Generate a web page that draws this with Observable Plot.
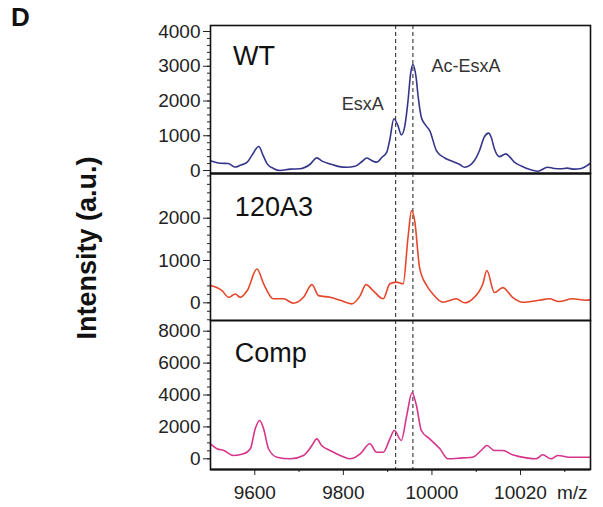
<!DOCTYPE html>
<html>
<head>
<meta charset="utf-8">
<script src="https://cdn.jsdelivr.net/npm/d3@7"></script>
<script src="https://cdn.jsdelivr.net/npm/@observablehq/plot@0.6"></script>
<style>
  html, body { margin: 0; padding: 0; background: #fff; }
  #wrap { position: relative; width: 603px; height: 507px; overflow: hidden; font-family: "Liberation Sans", Arial, sans-serif; }
  #wrap svg { position: absolute; left: 0; overflow: visible; }
  .lbl { position: absolute; white-space: nowrap; color: #111; }
</style>
</head>
<body>
<div id="wrap">
  <div class="lbl" style="left:11px;top:2px;font-size:26px;font-weight:bold;">D</div>
  <div class="lbl" id="ylab" style="left:87px;top:248px;font-size:27px;font-weight:bold;transform:translate(-50%,-50%) rotate(-90deg);">Intensity (a.u.)</div>
  <div class="lbl" style="left:557px;top:482px;font-size:19px;color:#222;">m/z</div>
</div>
<script>
// ---- data ----
const panelNames = ["WT", "120A3", "Comp"];
const peakLabels = ["EsxA", "Ac-EsxA"];
const peakMz = [9918, 9957];

const wtMz  = [9500,9522,9540,9556,9567,9583,9594,9609,9619,9628,9642,9657,9680,9702,9725,9740,9752,9770,9788,9808,9826,9842,9853,9862,9875,9887,9898,9905,9914,9923,9931,9939,9946,9952,9957,9964,9969,9976,9986,9995,10010,10029,10047,10062,10074,10096,10107,10118,10128,10134,10141,10152,10167,10175,10186,10202,10216,10239,10261,10276,10291,10305,10321,10337,10351,10356];
const wtInt = [280,210,200,100,150,240,450,690,430,190,60,0,40,50,180,365,270,190,120,95,120,260,360,300,240,380,530,900,1490,1300,1025,1300,2014,2800,3050,2700,2110,1535,1300,1150,575,360,260,180,95,288,560,960,1075,950,625,400,480,400,240,130,50,-20,95,60,50,70,40,60,145,200];

const a3Mz  = [9500,9526,9541,9556,9567,9583,9605,9620,9642,9665,9687,9710,9729,9744,9770,9793,9819,9838,9851,9867,9890,9905,9920,9935,9946,9954,9961,9972,9988,10002,10025,10055,10074,10092,10115,10124,10141,10160,10182,10205,10242,10265,10287,10317,10347,10356];
const a3Int = [410,290,130,210,130,290,800,450,95,95,-10,130,430,170,130,60,-25,170,430,290,95,450,490,450,1550,2180,1945,840,410,210,15,95,0,95,450,765,245,360,130,15,60,95,30,95,60,70];

const compMz  = [9500,9515,9530,9552,9575,9590,9601,9611,9620,9631,9650,9680,9710,9729,9740,9751,9770,9793,9815,9838,9860,9875,9890,9905,9915,9931,9943,9955,9965,9976,9995,10018,10036,10070,10092,10111,10124,10141,10160,10182,10213,10235,10250,10269,10284,10310,10348,10356];
const compInt = [940,630,520,210,315,630,1880,2400,1880,630,100,0,210,830,1250,830,520,210,0,315,940,410,410,1250,1775,1150,2710,4140,3340,1775,1250,630,0,60,100,520,830,520,520,250,60,0,250,0,210,100,100,100];

const yTicks = [[0,1000,2000,3000,4000],[0,1000,2000],[0,2000,4000,6000,8000]];
const yMinor = [d3.range(0, 4001, 200), d3.range(-400, 3001, 200), d3.range(0, 8001, 500)];
const yDomains = [[-86, 4173], [-418, 3057], [-671, 8671]];
const xDomain = [9500, 10358];
const xTickValues = [9600, 9800, 10000, 10200];
const xTickLabels = ["9600", "9800", "10000", "10020"];
const xMinor = [9700, 9900, 10100, 10300];
const lineColors = ["#35358c", "#e5472b", "#d6348a"];
// label anchor positions (data coordinates)
const nameX = [9551, 9555, 9555];
const nameY = [3022, 2064, 6056];

const series = [
  wtMz.map((m, i) => ({mz: m, v: wtInt[i]})),
  a3Mz.map((m, i) => ({mz: m, v: a3Int[i]})),
  compMz.map((m, i) => ({mz: m, v: compInt[i]}))
];

const hasAxisMarks = typeof Plot.axisY === "function";
const panels = [
  {top: 0, height: 173, mt: 25, mb: 0},
  {top: 173, height: 147, mt: 0, mb: 0},
  {top: 320, height: 187, mt: 0, mb: 38}
];
const fmt = d => String(d);

const wrap = document.getElementById("wrap");
panels.forEach((p, k) => {
  const marks = [];
  const isLast = k === 2;
  if (hasAxisMarks) {
    marks.push(Plot.axisY(yMinor[k].filter(v => v >= yDomains[k][0] && v <= yDomains[k][1]), {tickSize: 3, tickFormat: () => "", label: null, stroke: "#222"}));
    marks.push(Plot.axisY(yTicks[k], {tickSize: 7, tickPadding: 3, tickFormat: fmt, label: null, stroke: "#222", fill: "#222"}));
    if (isLast) {
      marks.push(Plot.axisX(xMinor, {tickSize: 3, tickFormat: () => "", label: null, stroke: "#222"}));
      marks.push(Plot.axisX(xTickValues, {tickSize: 6, tickPadding: 10, label: null, stroke: "#222", fill: "#222",
        tickFormat: d => xTickLabels[xTickValues.indexOf(d)]}));
    }
  }
  marks.push(Plot.ruleX(peakMz, {stroke: "#333", strokeDasharray: "4,3", strokeWidth: 1.1}));
  marks.push(Plot.line(series[k], {x: "mz", y: "v", stroke: lineColors[k], strokeWidth: 1.6, curve: "monotone-x"}));
  marks.push(Plot.text([panelNames[k]], {x: nameX[k], y: nameY[k], textAnchor: "start", lineAnchor: "bottom", fontSize: 27, fill: "#111"}));
  if (k === 0) {
    marks.push(Plot.text([peakLabels[0]], {x: 9891, y: 1727, textAnchor: "end", lineAnchor: "bottom", fontSize: 18, fill: "#333"}));
    marks.push(Plot.text([peakLabels[1]], {x: 9999, y: 2829, textAnchor: "start", lineAnchor: "bottom", fontSize: 18, fill: "#333"}));
  }
  marks.push(Plot.frame({stroke: "#111", strokeWidth: 1.6}));
  if (isLast || k === 0) marks.push(Plot.ruleY([yDomains[k][0]], {stroke: "#111", strokeWidth: 2.2}));

  const xOpt = isLast
    ? (hasAxisMarks ? {domain: xDomain} : {domain: xDomain, ticks: xTickValues, tickFormat: d => xTickLabels[xTickValues.indexOf(d)], tickSize: 6, tickPadding: 10, label: null})
    : {domain: xDomain, axis: null};
  const yOpt = hasAxisMarks ? {domain: yDomains[k]} : {domain: yDomains[k], ticks: yTicks[k], tickFormat: fmt, tickSize: 7, tickPadding: 3, label: null};

  const chart = Plot.plot({
    width: 603,
    height: p.height,
    marginLeft: 210,
    marginRight: 13,
    marginTop: p.mt,
    marginBottom: p.mb,
    style: {background: "transparent", fontFamily: "'Liberation Sans', Arial, sans-serif", fontSize: "19px", overflow: "visible", color: "#222"},
    x: xOpt,
    y: yOpt,
    marks
  });
  chart.style.top = p.top + "px";
  wrap.appendChild(chart);
});
</script>
</body>
</html>
